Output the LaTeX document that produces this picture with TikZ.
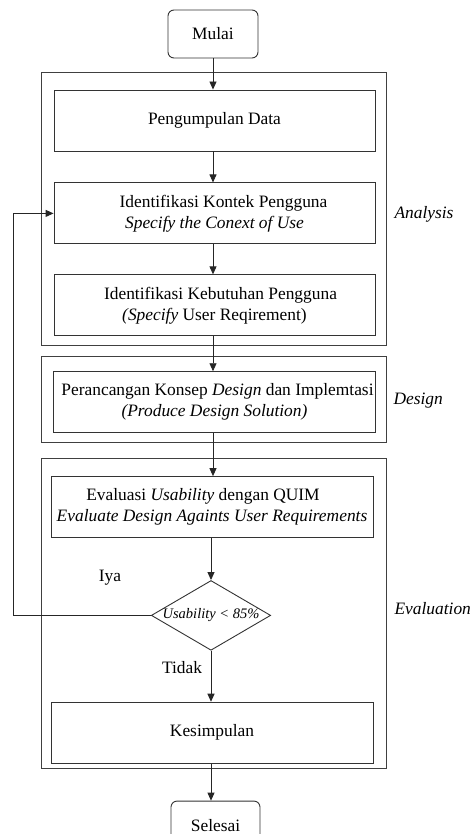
\documentclass[tikz,border=0pt]{standalone}
\usepackage{fontspec}
\setmainfont{Liberation Serif}
\usepackage{tikz}
\usetikzlibrary{arrows.meta, positioning, shapes.geometric}

\begin{document}
\begin{tikzpicture}[
  x=1pt, y=1pt,
  >={Triangle[length=8pt,width=7pt]},
  font=\fontsize{17.4}{21}\selectfont,
  box/.style={draw=black!80, line width=0.9pt, align=center, minimum width=321pt, minimum height=61pt, inner sep=2pt},
  terminal/.style={box, rounded corners=6pt, minimum width=90pt, minimum height=48pt},
  decision/.style={diamond, draw=black!80, line width=0.9pt, aspect=1.71, inner sep=0pt, minimum width=118pt, minimum height=69pt, font=\fontsize{14.5}{17}\selectfont\itshape},
  group/.style={draw=black!75, line width=0.9pt},
  phase/.style={anchor=west, font=\fontsize{17.4}{21}\selectfont\itshape},
  arrow/.style={->, draw=black!85, line width=0.9pt}
]
\useasboundingbox (0,0) rectangle (471,-834);

% kelompok tahapan
\draw[group] (41,-72) rectangle (386,-345);
\draw[group] (41,-356) rectangle (386,-442);
\draw[group] (41,-458) rectangle (386,-768);

\node[terminal] (mulai) at (213,-34) {Mulai};
\node[box] (data) at (214.5,-120.5) {Pengumpulan Data};
\node[box, below=31pt of data] (kontek) {\hspace*{18pt}Identifikasi Kontek Pengguna\\
\textit{Specify the Conext of Use}};
\node[box, below=30pt of kontek] (butuh) {\hspace*{12pt}Identifikasi Kebutuhan Pengguna\\
\textit{(Specify} User Reqirement)};
\node[box, below=35pt of butuh] (desain) {\hspace*{6pt}Perancangan Konsep \textit{Design} dan Implemtasi\\
\textit{(Produce Design Solution)}};
\node[box, minimum width=322pt, below=43pt of desain, xshift=-2.5pt] (evaluasi) {Evaluasi \textit{Usability} dengan QUIM\hspace*{18pt}\\
\textit{Evaluate Design Againts User Requirements}};
\node[decision, below=42pt of evaluasi, xshift=-1pt] (cek) {Usability < 85\%};
\node[box, minimum width=322pt, below=51pt of cek, xshift=1pt] (simpul) {Kesimpulan};
\node[terminal, minimum width=89pt, below=37pt of simpul, xshift=3.5pt] (selesai) {Selesai};

\coordinate (kiri) at (13,0);

\draw[arrow] (mulai) -- (mulai |- data.north);
\draw[arrow] (data.south -| mulai) -- (mulai |- kontek.north);
\draw[arrow] (kontek.south -| mulai) -- (mulai |- butuh.north);
\draw[arrow] (butuh.south -| mulai) -- (mulai |- desain.north);
\draw[arrow] (desain.south -| mulai) -- (mulai |- evaluasi.north);
\draw[arrow] (evaluasi.south -| cek) -- (cek.north);
\draw[arrow] (cek.south) -- (cek |- simpul.north);
\draw[arrow] (simpul.south -| cek) -- (cek |- selesai.north);
\draw[arrow] (cek.west) -| (kiri |- kontek.west) -- (kontek.west);

\node (iya) at (110,-578) {Iya};
\node (tidak) at (182,-668) {Tidak};

\node[phase] (analysis) at (391,-214) {Analysis};
\node[phase] (design) at (390,-401) {Design};
\node[phase] (evaluation) at (391,-609) {Evaluation};

\end{tikzpicture}
\end{document}
